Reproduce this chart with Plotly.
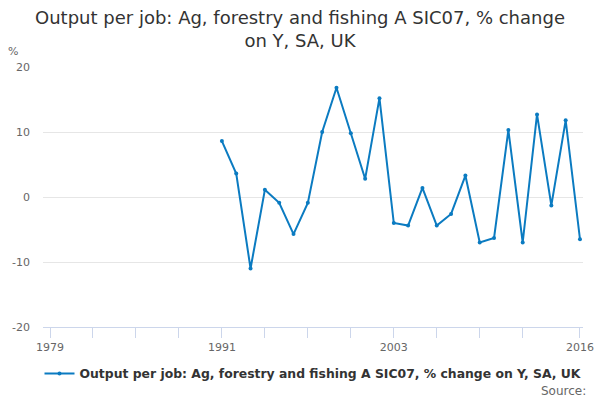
import plotly.graph_objects as go

# ── Data ──────────────────────────────────────────────────────────────────────
years = list(range(1991, 2017))
pct_change = [8.6, 3.6, -11.0, 1.1, -0.9, -5.7, -0.9, 10.0, 16.8, 9.8,
              2.8, 15.2, -4.0, -4.4, 1.4, -4.4, -2.6, 3.3, -7.0, -6.3,
              10.3, -7.0, 12.7, -1.3, 11.8, -6.5]

x_tick_years = list(range(1979, 2013, 3)) + [2016]
x_tick_labelled = ["1979", "1991", "2003", "2016"]
y_ticks = [-20, -10, 0, 10, 20]
y_tick_labels = ["-20", "-10", "0", "10", "20"]

SERIES = "Output per job: Ag, forestry and fishing A SIC07, % change on Y, SA, UK"
LINE = "#0b7bc1"
FONT = "DejaVu Sans, Verdana, sans-serif"

x_tick_text = [str(y) if str(y) in x_tick_labelled else "" for y in x_tick_years]

fig = go.Figure()
fig.add_trace(go.Scatter(
    x=years, y=pct_change,
    mode="lines+markers",
    name=SERIES,
    line=dict(color=LINE, width=2),
    marker=dict(color=LINE, size=4),
))

fig.update_layout(
    width=600, height=400,
    paper_bgcolor="white", plot_bgcolor="white",
    font=dict(family=FONT, color="#666666", size=11),
    title=dict(
        text="Output per job: Ag, forestry and fishing A SIC07, % change<br>on Y, SA, UK",
        font=dict(size=18, color="#333333", family=FONT),
        x=0.5, xanchor="center", y=0.94, yanchor="top",
    ),
    margin=dict(l=43, r=17, t=67, b=73, autoexpand=False),
    showlegend=True,
    legend=dict(
        orientation="h", x=0.5, xanchor="center", y=-0.181, yanchor="middle",
        font=dict(size=12.4, color="#333333", family=FONT, weight="bold"),
        itemwidth=30,
    ),
    xaxis=dict(
        range=[1978.51, 2016.21], automargin=False,
        tickmode="array", tickvals=x_tick_years, ticktext=x_tick_text,
        ticks="outside", ticklen=10, tickcolor="#ccd6eb", tickwidth=1,
        showline=True, linecolor="#ccd6eb", linewidth=1,
        showgrid=False, zeroline=False,
        tickfont=dict(size=11, color="#666666"),
    ),
    yaxis=dict(
        range=[-20, 20], automargin=False,
        tickmode="array", tickvals=y_ticks, ticktext=y_tick_labels,
        showgrid=True, gridcolor="#e6e6e6", gridwidth=1,
        zeroline=False, showline=False,
        ticklabelstandoff=12,
        tickfont=dict(size=11, color="#666666"),
    ),
    annotations=[
        dict(text="%", xref="paper", yref="paper", x=-0.068, y=1.058,
             xanchor="left", yanchor="middle", showarrow=False,
             font=dict(size=11, color="#666666")),
        dict(text="Source:", xref="paper", yref="paper", x=1.01, y=-0.246,
             xanchor="right", yanchor="middle", showarrow=False,
             font=dict(size=12, color="#666666")),
    ],
)

# page body has a default 8px margin; drop it so the figure fills the window
fig.write_html("out.html", config={"displayModeBar": False},
               post_script="document.body.style.margin='0';")
